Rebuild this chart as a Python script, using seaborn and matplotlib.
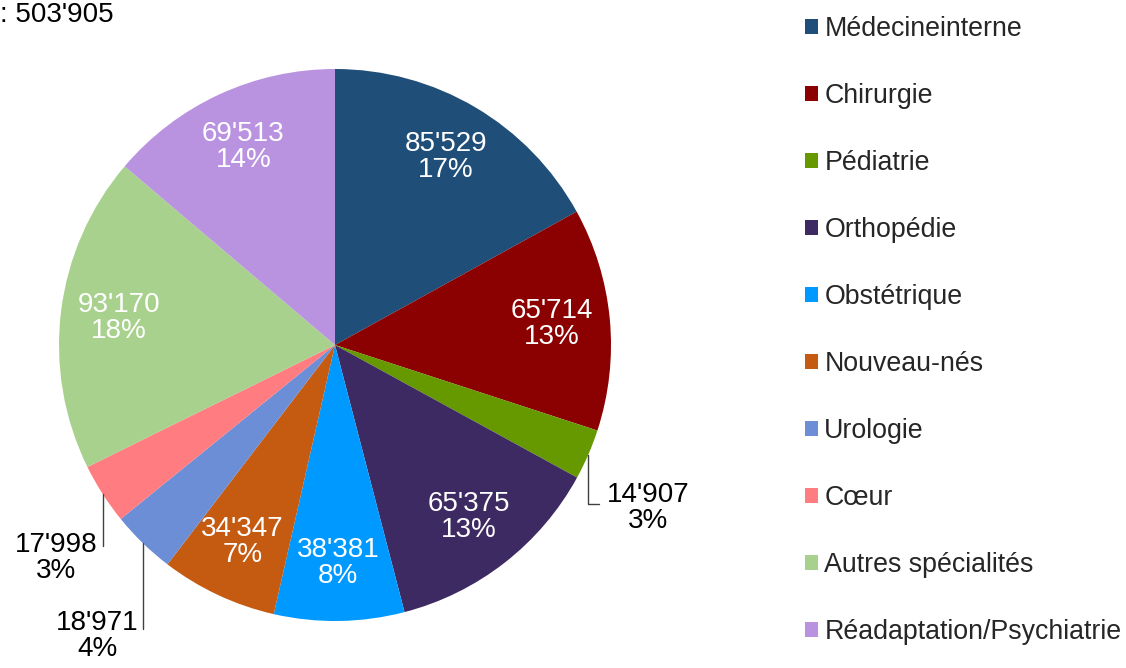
import numpy as np
import matplotlib
matplotlib.use("Agg")
import matplotlib.pyplot as plt
import seaborn as sns
from matplotlib.patches import Patch

# Données (sorties par spécialité)
categories = ["Médecineinterne", "Chirurgie", "Pédiatrie", "Orthopédie", "Obstétrique",
              "Nouveau-nés", "Urologie", "Cœur", "Autres spécialités",
              "Réadaptation/Psychiatrie"]
values = [85529, 65714, 14907, 65375, 38381, 34347, 18971, 17998, 93170, 69513]
colors = ["#1f4e79", "#8b0000", "#669900", "#3d2a62", "#0099ff",
          "#c55a11", "#6b8ed6", "#ff7c80", "#a9d18e", "#b993e0"]
total_label = ": 503'905"

sns.set_theme(style="white")
plt.rcParams["font.family"] = ["Liberation Sans", "DejaVu Sans"]
FS = 20

def fmt(v):
    return f"{v:,}".replace(",", "'")

def percents(vals):
    # arrondi type Excel: la somme fait 100 (plus grands restes)
    raw = np.array(vals) / sum(vals) * 100
    base = np.floor(raw).astype(int)
    rest = 100 - base.sum()
    order = np.argsort(-(raw - base))
    base[order[:rest]] += 1
    return base

fig = plt.figure(figsize=(11.26, 6.68), dpi=100)
ax = fig.add_axes([59 / 1126, 1 - 621 / 668, 552 / 1126, 552 / 668])

wedges, _ = ax.pie(values, colors=colors, startangle=90, counterclock=False,
                   wedgeprops=dict(linewidth=0))
ax.set_xlim(-1, 1)
ax.set_ylim(-1, 1)
ax.set_aspect("equal")
ax.axis("off")

pcts = percents(values)
# petites parts: étiquettes à l'extérieur avec ligne de rappel
outside = {
    2: dict(xytext=(1.134, -0.59), relpos=(0.0, 0.58)),
    7: dict(xytext=(-1.01, -0.77), relpos=(1.0, 0.64)),
    6: dict(xytext=(-0.86, -1.054), relpos=(1.0, 0.55)),
}

for i, (w, v) in enumerate(zip(wedges, values)):
    mid = np.deg2rad((w.theta1 + w.theta2) / 2)
    txt = f"{fmt(v)}\n{pcts[i]}%"
    if i in outside:
        o = outside[i]
        ax.annotate(txt, xy=(np.cos(mid), np.sin(mid)), xytext=o["xytext"],
                    ha="center", va="center", fontsize=FS, color="black",
                    linespacing=1.0, annotation_clip=False,
                    arrowprops=dict(arrowstyle="-", color="#404040", lw=1.0,
                                    connectionstyle="angle,angleA=0,angleB=90",
                                    relpos=o["relpos"], shrinkA=3, shrinkB=0))
    else:
        r = 0.79
        ax.text(r * np.cos(mid), r * np.sin(mid), txt, ha="center", va="center",
                fontsize=FS, color="white", linespacing=1.0)

fig.text(0.0, 1 - 2 / 668, total_label, ha="left", va="top", fontsize=FS, color="black")

handles = [Patch(facecolor=c, edgecolor="none") for c in colors]
fig.legend(handles, categories, loc="upper left",
           bbox_to_anchor=(805 / 1126, 1 - 16 / 668), frameon=False,
           fontsize=19.3, handlelength=0.48, handleheight=0.48, handletextpad=0.24,
           labelspacing=1.53, borderpad=0, borderaxespad=0)

fig.savefig("out.png", dpi=100, facecolor="white")
